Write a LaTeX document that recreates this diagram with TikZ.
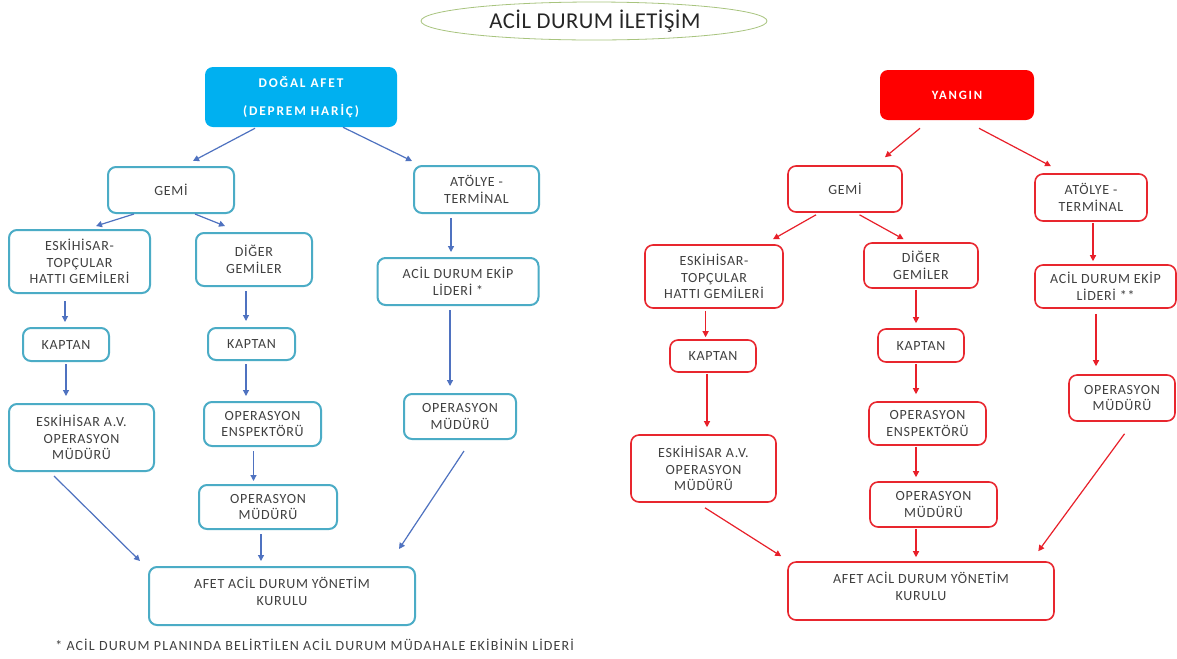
\documentclass[tikz,border=0pt]{standalone}
\usepackage{fontspec}
\setmainfont{Carlito}[LetterSpace=5]
\usetikzlibrary{arrows.meta,calc,shapes.geometric}
\definecolor{bbord}{HTML}{4BACC6}
\definecolor{barrow}{HTML}{4F72C0}
\definecolor{rbord}{HTML}{E8262E}
\definecolor{rarrow}{HTML}{E8202A}
\definecolor{cyanfill}{HTML}{00B0F0}
\definecolor{redfill}{HTML}{FF0000}
\definecolor{txt}{HTML}{404040}
\definecolor{ellc}{HTML}{A8C47E}
\tikzset{
  sz/.style 2 args={minimum width=#1*0.75pt, minimum height=#2*0.75pt},
  box/.style={rectangle, rounded corners=6pt, align=center, font=\fontsize{10.5}{12.5}\selectfont, text=txt, inner sep=0pt, fill=white},
  bbox/.style={box, draw=bbord, line width=1.5pt},
  rbox/.style={box, draw=rbord, line width=1.2pt},
  headb/.style={box, draw=none, fill=cyanfill, text=white, font=\fontsize{10}{12}\selectfont\bfseries\addfontfeature{LetterSpace=14}},
  headr/.style={box, draw=none, fill=redfill, text=white, font=\fontsize{9.5}{12}\selectfont\bfseries\addfontfeature{LetterSpace=14}},
  barr/.style={draw=barrow, line width=0.9pt, -{Triangle[length=4.5pt,width=4.5pt]}},
  rarr/.style={draw=rarrow, line width=0.9pt, -{Triangle[length=4.5pt,width=4.5pt]}},
}
\begin{document}
\begin{tikzpicture}[x=0.75pt,y=-0.75pt]
\useasboundingbox[fill=white] (0,0) rectangle (1177,658);
% title
\node[ellipse, draw=ellc, line width=0.6pt, minimum width=346*0.75pt, minimum height=38*0.75pt, inner sep=0pt] (title) at (594,21) {};
\node[font=\fontsize{17}{19}\selectfont\addfontfeature{LetterSpace=2}, text=black!85, inner sep=0pt] (titletxt) at (595,21) {ACİL DURUM İLETİŞİM};

% ---------- left (blue) ----------
\node[headb, sz={192}{60}] (dog) at (301,97) {DOĞAL AFET\\[9pt](DEPREM HARİÇ)};
\node[bbox, sz={126}{46}] (lgemi) at (171,190) {GEMİ};
\node[bbox, sz={125}{47}] (latl) at (476.5,189.5) {ATÖLYE -\\TERMİNAL};
\node[bbox, sz={141}{63}] (lesk) at (79.5,261.5) {ESKİHİSAR-\\TOPÇULAR\\HATTI GEMİLERİ};
\node[bbox, sz={116}{53}] (ldig) at (254,259.5) {DİĞER\\GEMİLER};
\node[bbox, sz={161}{47}] (lacil) at (458,281.5) {ACİL DURUM EKİP\\LİDERİ *};
\node[bbox, sz={86}{33}] (lkap1) at (66,344.5) {KAPTAN};
\node[bbox, sz={87}{32}] (lkap2) at (251.5,344) {KAPTAN};
\node[bbox, sz={117}{44}] (lens) at (262.5,424) {OPERASYON\\ENSPEKTÖRÜ};
\node[bbox, sz={138}{44}] (lopm2) at (268,507) {OPERASYON\\MÜDÜRÜ};
\node[bbox, sz={112}{45}] (lopm3) at (460,416.5) {OPERASYON\\MÜDÜRÜ};
\node[bbox, sz={145}{67}] (lav) at (81.5,437.5) {ESKİHİSAR A.V.\\OPERASYON\\MÜDÜRÜ};
\node[bbox, sz={266}{58}] (lafet) at (282,596) {AFET ACİL DURUM YÖNETİM\\KURULU\\[-5pt]\mbox{}};
\node[font=\fontsize{10.5}{12}\selectfont\addfontfeature{LetterSpace=8}, text=txt, anchor=west, inner sep=0pt] (foot) at (55,645) {* ACİL DURUM PLANINDA BELİRTİLEN ACİL DURUM MÜDAHALE EKİBİNİN LİDERİ};

\draw[barr] ([shift={(-46,1)}]dog.south) -- ([shift={(22,-5)}]lgemi.north);
\draw[barr] ([shift={(42,0)}]dog.south) -- ([shift={(-64.5,-4)}]latl.north);
\draw[barr] ([shift={(-37,0)}]lgemi.south) -- ([shift={(16.5,-3)}]lesk.north);
\draw[barr] ([shift={(24,0)}]lgemi.south) -- ([shift={(-29,-6)}]ldig.north);
\draw[barr] ([shift={(-14.5,7)}]lesk.south) -- ([shift={(-1,-5)}]lkap1.north);
\draw[barr] ([shift={(0,2)}]lkap1.south) -- ([shift={(-15.5,-7)}]lav.north);
\draw[barr] ([shift={(-8,4)}]ldig.south) -- ([shift={(-5.5,-6)}]lkap2.north);
\draw[barr] ([shift={(-5.5,3)}]lkap2.south) -- ([shift={(-16.5,-5)}]lens.north);
\draw[barr] ([shift={(-9,4)}]lens.south) -- ([shift={(-14.5,-3)}]lopm2.north);
\draw[barr] ([shift={(-7,4)}]lopm2.south) -- ([shift={(-21,-5)}]lafet.north);
\draw[barr] ([shift={(-25.5,4)}]latl.south) -- ([shift={(-7,-5)}]lacil.north);
\draw[barr] ([shift={(-8,4)}]lacil.south) -- ([shift={(-10,-7)}]lopm3.north);
\draw[barr] ([shift={(-27.5,4)}]lav.south) -- ([shift={(-8,-5)}]lafet.north west);
\draw[barr] ([shift={(4,11)}]lopm3.south) -- ([shift={(-17,-17)}]lafet.north east);

% ---------- right (red) ----------
\node[headr, sz={154}{50}] (yan) at (957,95) {YANGIN};
\node[rbox, sz={114}{46}] (rgemi) at (845,189) {GEMİ};
\node[rbox, sz={112}{47}] (ratl) at (1091,197.5) {ATÖLYE -\\TERMİNAL};
\node[rbox, sz={138}{63}] (resk) at (714,276.5) {ESKİHİSAR-\\TOPÇULAR\\HATTI GEMİLERİ};
\node[rbox, sz={114}{45}] (rdig) at (921,265.5) {DİĞER\\GEMİLER};
\node[rbox, sz={141}{43}] (racil) at (1105.5,286.5) {ACİL DURUM EKİP\\LİDERİ **};
\node[rbox, sz={86}{32}] (rkap1) at (713,356) {KAPTAN};
\node[rbox, sz={86}{33}] (rkap2) at (921,345.5) {KAPTAN};
\node[rbox, sz={117}{43}] (rens) at (927.5,423.5) {OPERASYON\\ENSPEKTÖRÜ};
\node[rbox, sz={127}{45}] (ropm2) at (933.5,504.5) {OPERASYON\\MÜDÜRÜ};
\node[rbox, sz={106}{46}] (ropm3) at (1122,398) {OPERASYON\\MÜDÜRÜ};
\node[rbox, sz={145}{67}] (rav) at (703.5,468.5) {ESKİHİSAR A.V.\\OPERASYON\\MÜDÜRÜ};
\node[rbox, sz={266}{58}] (rafet) at (921,591) {AFET ACİL DURUM YÖNETİM\\KURULU\\[-5pt]\mbox{}};

\draw[rarr] ([shift={(-37,8)}]yan.south) -- ([shift={(40,-8)}]rgemi.north);
\draw[rarr] ([shift={(22,8)}]yan.south) -- ([shift={(-40,-7)}]ratl.north);
\draw[rarr] ([shift={(-29,2)}]rgemi.south) -- ([shift={(59,-5)}]resk.north);
\draw[rarr] ([shift={(14.5,2)}]rgemi.south) -- ([shift={(-17.4,-3)}]rdig.north);
\draw[rarr] ([shift={(-8.4,2)}]resk.south) -- ([shift={(-7.4,-2)}]rkap1.north);
\draw[rarr] ([shift={(-6,1)}]rkap1.south) -- ([shift={(3.5,-7)}]rav.north);
\draw[rarr] ([shift={(-5,1)}]rdig.south) -- ([shift={(-5,-5)}]rkap2.north);
\draw[rarr] ([shift={(-5,1)}]rkap2.south) -- ([shift={(-11.5,-7)}]rens.north);
\draw[rarr] ([shift={(-11.5,1)}]rens.south) -- ([shift={(-17.5,-4)}]ropm2.north);
\draw[rarr] ([shift={(-17.5,1)}]ropm2.south) -- ([shift={(-5,-4)}]rafet.north);
\draw[rarr] ([shift={(2,1)}]ratl.south) -- ([shift={(-12.5,-3)}]racil.north);
\draw[rarr] ([shift={(-9.5,5)}]racil.south) -- ([shift={(-26,-8)}]ropm3.north);
\draw[rarr] ([shift={(1.5,5)}]rav.south) -- ([shift={(-6,-5)}]rafet.north west);
\draw[rarr] ([shift={(2.5,12)}]ropm3.south) -- ([shift={(-16.5,-10)}]rafet.north east);
\end{tikzpicture}
\end{document}
